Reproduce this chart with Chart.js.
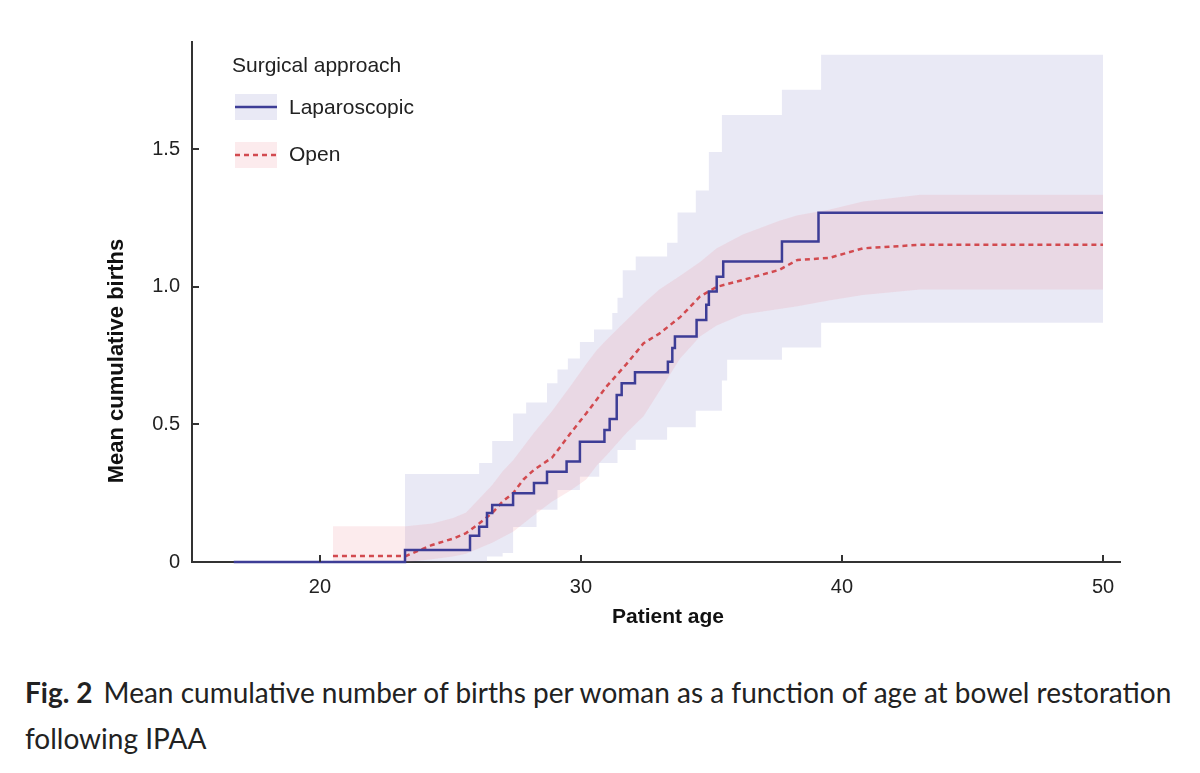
<!DOCTYPE html>
<html>
<head>
<meta charset="utf-8">
<title>Mean cumulative births</title>
<script src="https://cdn.jsdelivr.net/npm/chart.js@4.4.1/dist/chart.umd.min.js"></script>
<style>
    html, body { margin: 0; padding: 0; background: #fff; }
    #wrap { position: relative; width: 1200px; height: 773px; overflow: hidden; }
    #chart { position: absolute; left: 0; top: 0; }
    #caption {
        position: absolute; left: 25px; top: 669px; width: 1160px;
        font-family: Lato, "Noto Sans", sans-serif; font-size: 28px;
        line-height: 46px; color: #222;
    }
    #caption b { font-weight: 700; margin-right: 4px; }
</style>
</head>
<body>
<div id="wrap">
    <canvas id="chart" width="1200" height="650"></canvas>
    <div id="caption"><b>Fig. 2</b> Mean cumulative number of births per woman as a function of age at bowel restoration following IPAA</div>
</div>

<script>
/* =====================================
   Data
===================================== */
const lapAge  = [16.7, 23.26, 25.75, 26.1, 26.4, 26.6, 27.4, 28.2, 28.7, 29.45, 29.96, 30.9, 31.1, 31.37, 31.56, 32.07, 33.33, 33.5, 33.6, 34.43, 34.8, 34.9, 35.2, 35.45, 37.7, 39.1, 50];
const lapMean = [0, 0.044, 0.095, 0.128, 0.178, 0.207, 0.25, 0.287, 0.328, 0.365, 0.437, 0.48, 0.52, 0.607, 0.65, 0.69, 0.728, 0.778, 0.82, 0.88, 0.935, 0.983, 1.037, 1.092, 1.165, 1.269, 1.269];

const lapBandAge = [23.26, 26.0, 26.1, 26.4, 26.6, 27.0, 27.4, 27.9, 28.3, 28.7, 29.1, 29.5, 29.96, 30.5, 30.7, 31.2, 31.4, 31.6, 32.1, 33.3, 33.7, 34.4, 34.9, 35.4, 35.6, 37.7, 39.2, 50];
const lapUpper   = [0.32, 0.32, 0.36, 0.36, 0.44, 0.44, 0.54, 0.58, 0.58, 0.65, 0.70, 0.74, 0.80, 0.845, 0.845, 0.905, 0.96, 1.06, 1.11, 1.16, 1.27, 1.35, 1.49, 1.625, 1.625, 1.716, 1.844, 1.844];
const lapLower   = [0, 0, 0, 0.02, 0.02, 0.033, 0.127, 0.127, 0.19, 0.19, 0.262, 0.262, 0.31, 0.31, 0.36, 0.36, 0.407, 0.407, 0.444, 0.49, 0.49, 0.55, 0.55, 0.66, 0.735, 0.78, 0.87, 0.87];

const openAge   = [20.5, 23.3, 24.3, 25.1, 25.6, 26.1, 26.6, 27.0, 27.4, 27.8, 28.2, 28.9, 29.6, 30.2, 30.6, 31.0, 31.75, 32.4, 33.0, 33.8, 34.56, 35.2, 36.2, 37.6, 38.3, 39.5, 40.8, 43.0, 50];
const openMean  = [0.022, 0.022, 0.062, 0.085, 0.105, 0.14, 0.178, 0.22, 0.25, 0.30, 0.335, 0.38, 0.468, 0.54, 0.59, 0.64, 0.72, 0.795, 0.83, 0.89, 0.965, 1.0, 1.025, 1.062, 1.098, 1.105, 1.14, 1.153, 1.153];
const openUpper = [0.13, 0.13, 0.14, 0.16, 0.18, 0.23, 0.28, 0.33, 0.37, 0.42, 0.47, 0.55, 0.64, 0.72, 0.77, 0.81, 0.88, 0.94, 0.99, 1.04, 1.09, 1.14, 1.19, 1.24, 1.26, 1.28, 1.31, 1.335, 1.335];
const openLower = [0, 0, 0.01, 0.02, 0.03, 0.05, 0.07, 0.09, 0.11, 0.14, 0.17, 0.22, 0.26, 0.30, 0.35, 0.39, 0.47, 0.53, 0.62, 0.74, 0.82, 0.86, 0.90, 0.92, 0.93, 0.95, 0.97, 0.99, 0.99];

const xTicks = [20, 30, 40, 50];
const yTicks = [0, 0.5, 1.0, 1.5];
const yTickLabels = ["0", "0.5", "1.0", "1.5"];

const seriesNames = ["Laparoscopic", "Open"];
const legendTitle = "Surgical approach";
const xTitle = "Patient age";
const yTitle = "Mean cumulative births";


/* =====================================
   Colours / fonts
===================================== */
const LAP_LINE  = "#3d3d96";
const LAP_BAND  = "rgba(110,110,190,0.15)";
const OPEN_LINE = "#d24a4f";
const OPEN_BAND = "rgba(235,120,135,0.15)";
const AXIS      = "#333333";
const FONT      = '"Liberation Sans", Arial, Helvetica, sans-serif';


function toPoints(xs, ys) {
    return xs.map((x, i) => ({ x: x, y: ys[i] }));
}


/* =====================================
   Extra drawing: inward ticks, axis titles, legend
===================================== */
const figureExtras = {
    id: "figureExtras",
    afterDraw(chart) {
        let ctx = chart.ctx;
        let a = chart.chartArea;
        let xs = chart.scales.x;
        let ys = chart.scales.y;

        ctx.save();
        ctx.strokeStyle = AXIS;
        ctx.lineWidth = 2;
        ctx.beginPath();
        xTicks.forEach(v => {
            let px = Math.round(xs.getPixelForValue(v));
            ctx.moveTo(px, a.bottom);
            ctx.lineTo(px, a.bottom - 7);
        });
        yTicks.forEach(v => {
            let py = Math.round(ys.getPixelForValue(v));
            ctx.moveTo(a.left, py);
            ctx.lineTo(a.left + 7, py);
        });
        ctx.stroke();

        // axis titles
        ctx.fillStyle = "#111";
        ctx.font = "bold 21px " + FONT;
        ctx.textAlign = "center";
        ctx.textBaseline = "middle";
        ctx.fillText(xTitle, 668, 617);

        ctx.save();
        ctx.translate(117, 361);
        ctx.rotate(-Math.PI / 2);
        ctx.font = "bold 22px " + FONT;
        ctx.fillText(yTitle, 0, 0);
        ctx.restore();

        // legend
        ctx.textAlign = "left";
        ctx.fillStyle = "#222";
        ctx.font = "21px " + FONT;
        ctx.fillText(legendTitle, 232, 66);

        ctx.fillStyle = LAP_BAND;
        ctx.fillRect(235, 94, 42, 26);
        ctx.strokeStyle = LAP_LINE;
        ctx.lineWidth = 2.5;
        ctx.setLineDash([]);
        ctx.beginPath();
        ctx.moveTo(235, 107);
        ctx.lineTo(277, 107);
        ctx.stroke();

        ctx.fillStyle = OPEN_BAND;
        ctx.fillRect(235, 142, 42, 26);
        ctx.strokeStyle = OPEN_LINE;
        ctx.setLineDash([5, 4]);
        ctx.beginPath();
        ctx.moveTo(235, 155);
        ctx.lineTo(277, 155);
        ctx.stroke();
        ctx.setLineDash([]);

        ctx.fillStyle = "#222";
        ctx.fillText(seriesNames[0], 289, 108);
        ctx.fillText(seriesNames[1], 289, 155);
        ctx.restore();
    }
};


/* =====================================
   Chart
===================================== */
function lineSet(label, xs, ys, color, dash, stepped) {
    return {
        label: label,
        data: toPoints(xs, ys),
        borderColor: color,
        borderWidth: 2.5,
        borderDash: dash,
        stepped: stepped,
        pointRadius: 0,
        fill: false,
        clip: 4
    };
}

function bandSet(label, xs, ys, color, fill, stepped) {
    return {
        label: label,
        data: toPoints(xs, ys),
        borderWidth: 0,
        borderColor: "rgba(0,0,0,0)",
        backgroundColor: color,
        stepped: stepped,
        pointRadius: 0,
        fill: fill
    };
}

const ctx = document.getElementById("chart");

new Chart(ctx, {
    type: "line",
    data: {
        datasets: [
            lineSet(seriesNames[0], lapAge, lapMean, LAP_LINE, [], "before"),
            lineSet(seriesNames[1], openAge, openMean, OPEN_LINE, [5, 4], false),
            bandSet("Open upper", openAge, openUpper, OPEN_BAND, "+1", false),
            bandSet("Open lower", openAge, openLower, OPEN_BAND, false, false),
            bandSet("Lap upper", lapBandAge, lapUpper, LAP_BAND, "+1", "before"),
            bandSet("Lap lower", lapBandAge, lapLower, LAP_BAND, false, "before")
        ]
    },
    options: {
        responsive: false,
        animation: false,
        devicePixelRatio: 1,
        layout: { padding: { top: 42, right: 80, left: 0, bottom: 0 } },
        plugins: {
            legend: { display: false },
            tooltip: { enabled: false },
            filler: { drawTime: "beforeDatasetsDraw" }
        },
        scales: {
            x: {
                type: "linear",
                min: 15.1,
                max: 50.65,
                afterFit: s => { s.height = 88; },
                afterBuildTicks: s => { s.ticks = xTicks.map(v => ({ value: v })); },
                grid: { display: false, drawTicks: false },
                border: { display: true, color: AXIS, width: 2 },
                ticks: {
                    padding: 13,
                    color: "#222",
                    font: { family: FONT, size: 20 },
                    maxRotation: 0,
                    callback: v => String(v)
                }
            },
            y: {
                type: "linear",
                min: 0,
                max: 1.89,
                afterFit: s => { s.width = 192; },
                afterBuildTicks: s => { s.ticks = yTicks.map(v => ({ value: v })); },
                grid: { display: false, drawTicks: false },
                border: { display: true, color: AXIS, width: 2 },
                ticks: {
                    padding: 12,
                    color: "#222",
                    font: { family: FONT, size: 20 },
                    callback: (v, i) => yTickLabels[i]
                }
            }
        }
    },
    plugins: [figureExtras]
});
</script>
</body>
</html>
